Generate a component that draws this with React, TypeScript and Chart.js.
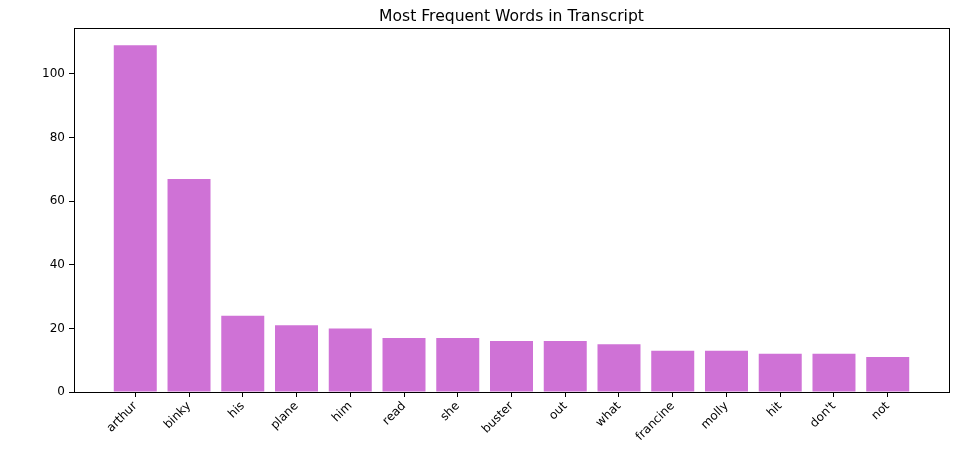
import React, { useEffect, useRef } from "react";
import { Chart, registerables } from "chart.js";

Chart.register(...registerables);

const title = "Most Frequent Words in Transcript";
const words = ["arthur", "binky", "his", "plane", "him", "read", "she", "buster", "out", "what", "francine", "molly", "hit", "don't", "not"];
const counts = [109, 67, 24, 21, 20, 17, 17, 16, 16, 15, 13, 13, 12, 12, 11];
const yTicks = [0, 20, 40, 60, 80, 100];

const FONT = "'DejaVu Sans', sans-serif";

const frame = {
  id: "frame",
  afterDatasetsDraw(chart: any) {
    const { ctx, chartArea: a } = chart;
    ctx.save();
    ctx.strokeStyle = "#000";
    ctx.lineWidth = 1;
    ctx.strokeRect(Math.round(a.left) + 0.5, Math.round(a.top) + 0.5, Math.round(a.right - a.left), Math.round(a.bottom - a.top));
    ctx.fillStyle = "#000";
    ctx.font = `15.6px ${FONT}`;
    ctx.textAlign = "center";
    ctx.textBaseline = "alphabetic";
    ctx.fillText(title, (a.left + a.right) / 2, 21);
    ctx.restore();
  },
};

export default function App() {
  const ref = useRef<HTMLCanvasElement>(null);
  useEffect(() => {
    document.body.style.margin = "0";
    const n = words.length;
    const lo = -0.4, hi = n - 1 + 0.4;
    const pad = (hi - lo) * 0.05;
    const ymax = Math.max(...counts) * 1.05;
    const chart = new Chart(ref.current!, {
      type: "bar",
      data: {
        datasets: [
          {
            data: counts.map((v, i) => ({ x: i, y: v })),
            backgroundColor: "#CF72D6",
            borderWidth: 0,
            barPercentage: 0.8,
            categoryPercentage: 1,
          } as any,
        ],
      },
      plugins: [frame],
      options: {
        animation: false,
        responsive: false,
        devicePixelRatio: 1,
        layout: { padding: { left: 0, right: 13, top: 28, bottom: 0 } },
        plugins: {
          legend: { display: false },
          tooltip: { enabled: false },
          title: { display: false },
        },
        scales: {
          x: {
            type: "linear",
            min: lo - pad,
            max: hi + pad,
            offset: false,
            afterBuildTicks: (s: any) => {
              s.ticks = words.map((_, i) => ({ value: i }));
            },
            afterFit: (s: any) => {
              s.height = 58;
            },
            ticks: {
              autoSkip: false,
              maxRotation: 45,
              minRotation: 45,
              color: "#000",
              padding: 2,
              font: { family: FONT, size: 12 },
              callback: (v: any) => words[v as number] ?? "",
            },
            grid: { display: true, offset: false, drawOnChartArea: false, tickLength: 5, tickColor: "#000", color: "#000" },
            border: { display: false },
          },
          y: {
            min: 0,
            max: ymax,
            afterBuildTicks: (s: any) => {
              s.ticks = yTicks.map((v) => ({ value: v }));
            },
            afterFit: (s: any) => {
              s.width = 74;
            },
            ticks: {
              color: "#000",
              padding: 4,
              font: { family: FONT, size: 12 },
            },
            grid: { display: true, drawOnChartArea: false, tickLength: 5, tickColor: "#000", color: "#000" },
            border: { display: false },
          },
        },
      },
    });
    return () => chart.destroy();
  }, []);
  return (
    <div style={{ width: 962, height: 450 }}>
      <canvas ref={ref} width={962} height={450} style={{ width: 962, height: 450, display: "block" }} />
    </div>
  );
}
